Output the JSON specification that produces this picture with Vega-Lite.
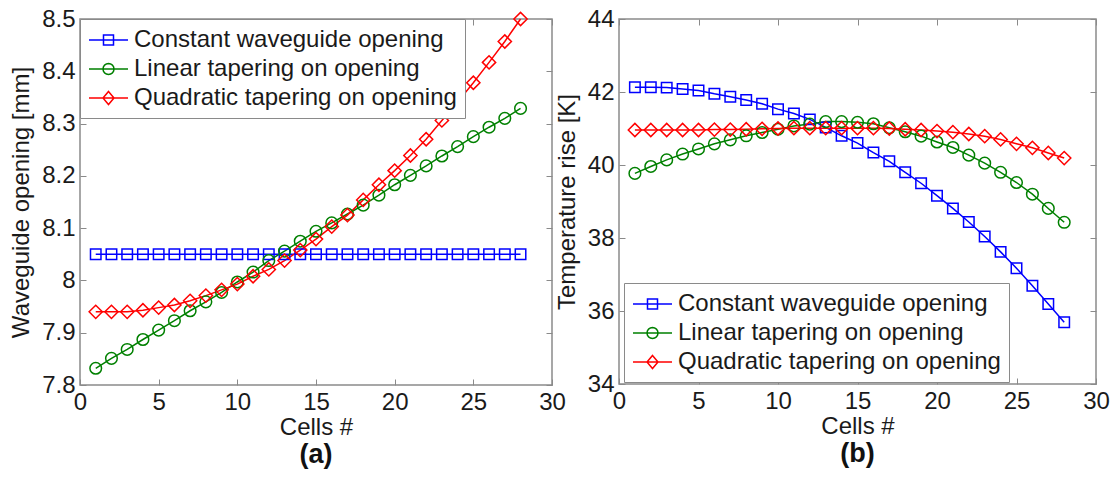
{
  "$schema": "https://vega.github.io/schema/vega-lite/v6.json",
  "background": "white",
  "padding": {"left": 8, "top": 6, "right": 5, "bottom": 0},
  "bounds": "flush",
  "spacing": 67,
  "config": {
    "font": "Liberation Sans",
    "view": {"stroke": "#8a8a8a", "strokeWidth": 1.5},
    "axis": {
      "grid": false, "domain": false, "ticks": true, "tickColor": "#8a8a8a", "tickSize": -6, "tickWidth": 1,
      "labelFont": "Liberation Sans", "labelFontSize": 24, "labelColor": "#1a1a1a", "labelPadding": 11,
      "labelFlush": false, "labelOverlap": false,
      "titleFont": "Liberation Sans", "titleFontSize": 24, "titleFontWeight": "normal", "titleColor": "#1a1a1a"
    },
    "legend": {
      "labelFont": "Liberation Sans", "labelFontSize": 24, "labelColor": "#1a1a1a", "labelLimit": 600,
      "fillColor": "white", "strokeColor": "#8a8a8a", "padding": 8, "rowPadding": 4,
      "symbolSize": 576, "symbolStrokeWidth": 1.5, "labelOffset": 20, "zindex": 1
    },
    "title": {"font": "Liberation Sans", "fontSize": 27, "fontWeight": "bold", "color": "#111111"}
  },
  "datasets": {
    "opening": [
      {"cell":1,"series":"Constant waveguide opening","value":8.05},{"cell":2,"series":"Constant waveguide opening","value":8.05},{"cell":3,"series":"Constant waveguide opening","value":8.05},{"cell":4,"series":"Constant waveguide opening","value":8.05},{"cell":5,"series":"Constant waveguide opening","value":8.05},{"cell":6,"series":"Constant waveguide opening","value":8.05},{"cell":7,"series":"Constant waveguide opening","value":8.05},{"cell":8,"series":"Constant waveguide opening","value":8.05},{"cell":9,"series":"Constant waveguide opening","value":8.05},{"cell":10,"series":"Constant waveguide opening","value":8.05},{"cell":11,"series":"Constant waveguide opening","value":8.05},{"cell":12,"series":"Constant waveguide opening","value":8.05},{"cell":13,"series":"Constant waveguide opening","value":8.05},{"cell":14,"series":"Constant waveguide opening","value":8.05},{"cell":15,"series":"Constant waveguide opening","value":8.05},{"cell":16,"series":"Constant waveguide opening","value":8.05},{"cell":17,"series":"Constant waveguide opening","value":8.05},{"cell":18,"series":"Constant waveguide opening","value":8.05},{"cell":19,"series":"Constant waveguide opening","value":8.05},{"cell":20,"series":"Constant waveguide opening","value":8.05},{"cell":21,"series":"Constant waveguide opening","value":8.05},{"cell":22,"series":"Constant waveguide opening","value":8.05},{"cell":23,"series":"Constant waveguide opening","value":8.05},{"cell":24,"series":"Constant waveguide opening","value":8.05},{"cell":25,"series":"Constant waveguide opening","value":8.05},{"cell":26,"series":"Constant waveguide opening","value":8.05},{"cell":27,"series":"Constant waveguide opening","value":8.05},{"cell":28,"series":"Constant waveguide opening","value":8.05},
      {"cell":1,"series":"Linear tapering on opening","value":7.832},{"cell":2,"series":"Linear tapering on opening","value":7.851},{"cell":3,"series":"Linear tapering on opening","value":7.868},{"cell":4,"series":"Linear tapering on opening","value":7.887},{"cell":5,"series":"Linear tapering on opening","value":7.905},{"cell":6,"series":"Linear tapering on opening","value":7.923},{"cell":7,"series":"Linear tapering on opening","value":7.942},{"cell":8,"series":"Linear tapering on opening","value":7.959},{"cell":9,"series":"Linear tapering on opening","value":7.977},{"cell":10,"series":"Linear tapering on opening","value":7.997},{"cell":11,"series":"Linear tapering on opening","value":8.016},{"cell":12,"series":"Linear tapering on opening","value":8.038},{"cell":13,"series":"Linear tapering on opening","value":8.056},{"cell":14,"series":"Linear tapering on opening","value":8.075},{"cell":15,"series":"Linear tapering on opening","value":8.094},{"cell":16,"series":"Linear tapering on opening","value":8.11},{"cell":17,"series":"Linear tapering on opening","value":8.127},{"cell":18,"series":"Linear tapering on opening","value":8.144},{"cell":19,"series":"Linear tapering on opening","value":8.163},{"cell":20,"series":"Linear tapering on opening","value":8.183},{"cell":21,"series":"Linear tapering on opening","value":8.201},{"cell":22,"series":"Linear tapering on opening","value":8.219},{"cell":23,"series":"Linear tapering on opening","value":8.238},{"cell":24,"series":"Linear tapering on opening","value":8.256},{"cell":25,"series":"Linear tapering on opening","value":8.275},{"cell":26,"series":"Linear tapering on opening","value":8.293},{"cell":27,"series":"Linear tapering on opening","value":8.31},{"cell":28,"series":"Linear tapering on opening","value":8.329},
      {"cell":1,"series":"Quadratic tapering on opening","value":7.94},{"cell":2,"series":"Quadratic tapering on opening","value":7.94},{"cell":3,"series":"Quadratic tapering on opening","value":7.94},{"cell":4,"series":"Quadratic tapering on opening","value":7.943},{"cell":5,"series":"Quadratic tapering on opening","value":7.948},{"cell":6,"series":"Quadratic tapering on opening","value":7.953},{"cell":7,"series":"Quadratic tapering on opening","value":7.961},{"cell":8,"series":"Quadratic tapering on opening","value":7.971},{"cell":9,"series":"Quadratic tapering on opening","value":7.982},{"cell":10,"series":"Quadratic tapering on opening","value":7.993},{"cell":11,"series":"Quadratic tapering on opening","value":8.008},{"cell":12,"series":"Quadratic tapering on opening","value":8.021},{"cell":13,"series":"Quadratic tapering on opening","value":8.038},{"cell":14,"series":"Quadratic tapering on opening","value":8.058},{"cell":15,"series":"Quadratic tapering on opening","value":8.079},{"cell":16,"series":"Quadratic tapering on opening","value":8.103},{"cell":17,"series":"Quadratic tapering on opening","value":8.125},{"cell":18,"series":"Quadratic tapering on opening","value":8.154},{"cell":19,"series":"Quadratic tapering on opening","value":8.183},{"cell":20,"series":"Quadratic tapering on opening","value":8.21},{"cell":21,"series":"Quadratic tapering on opening","value":8.239},{"cell":22,"series":"Quadratic tapering on opening","value":8.27},{"cell":23,"series":"Quadratic tapering on opening","value":8.306},{"cell":24,"series":"Quadratic tapering on opening","value":8.341},{"cell":25,"series":"Quadratic tapering on opening","value":8.378},{"cell":26,"series":"Quadratic tapering on opening","value":8.417},{"cell":27,"series":"Quadratic tapering on opening","value":8.457},{"cell":28,"series":"Quadratic tapering on opening","value":8.5}
    ],
    "temp": [
      {"cell":1,"series":"Constant waveguide opening","value":42.13},{"cell":2,"series":"Constant waveguide opening","value":42.13},{"cell":3,"series":"Constant waveguide opening","value":42.12},{"cell":4,"series":"Constant waveguide opening","value":42.08},{"cell":5,"series":"Constant waveguide opening","value":42.04},{"cell":6,"series":"Constant waveguide opening","value":41.95},{"cell":7,"series":"Constant waveguide opening","value":41.87},{"cell":8,"series":"Constant waveguide opening","value":41.78},{"cell":9,"series":"Constant waveguide opening","value":41.68},{"cell":10,"series":"Constant waveguide opening","value":41.53},{"cell":11,"series":"Constant waveguide opening","value":41.41},{"cell":12,"series":"Constant waveguide opening","value":41.25},{"cell":13,"series":"Constant waveguide opening","value":41.03},{"cell":14,"series":"Constant waveguide opening","value":40.8},{"cell":15,"series":"Constant waveguide opening","value":40.6},{"cell":16,"series":"Constant waveguide opening","value":40.34},{"cell":17,"series":"Constant waveguide opening","value":40.1},{"cell":18,"series":"Constant waveguide opening","value":39.8},{"cell":19,"series":"Constant waveguide opening","value":39.5},{"cell":20,"series":"Constant waveguide opening","value":39.16},{"cell":21,"series":"Constant waveguide opening","value":38.81},{"cell":22,"series":"Constant waveguide opening","value":38.44},{"cell":23,"series":"Constant waveguide opening","value":38.04},{"cell":24,"series":"Constant waveguide opening","value":37.62},{"cell":25,"series":"Constant waveguide opening","value":37.17},{"cell":26,"series":"Constant waveguide opening","value":36.69},{"cell":27,"series":"Constant waveguide opening","value":36.19},{"cell":28,"series":"Constant waveguide opening","value":35.69},
      {"cell":1,"series":"Linear tapering on opening","value":39.77},{"cell":2,"series":"Linear tapering on opening","value":39.96},{"cell":3,"series":"Linear tapering on opening","value":40.14},{"cell":4,"series":"Linear tapering on opening","value":40.3},{"cell":5,"series":"Linear tapering on opening","value":40.44},{"cell":6,"series":"Linear tapering on opening","value":40.58},{"cell":7,"series":"Linear tapering on opening","value":40.69},{"cell":8,"series":"Linear tapering on opening","value":40.8},{"cell":9,"series":"Linear tapering on opening","value":40.89},{"cell":10,"series":"Linear tapering on opening","value":40.98},{"cell":11,"series":"Linear tapering on opening","value":41.07},{"cell":12,"series":"Linear tapering on opening","value":41.12},{"cell":13,"series":"Linear tapering on opening","value":41.19},{"cell":14,"series":"Linear tapering on opening","value":41.19},{"cell":15,"series":"Linear tapering on opening","value":41.17},{"cell":16,"series":"Linear tapering on opening","value":41.13},{"cell":17,"series":"Linear tapering on opening","value":41.02},{"cell":18,"series":"Linear tapering on opening","value":40.91},{"cell":19,"series":"Linear tapering on opening","value":40.79},{"cell":20,"series":"Linear tapering on opening","value":40.63},{"cell":21,"series":"Linear tapering on opening","value":40.48},{"cell":22,"series":"Linear tapering on opening","value":40.27},{"cell":23,"series":"Linear tapering on opening","value":40.05},{"cell":24,"series":"Linear tapering on opening","value":39.8},{"cell":25,"series":"Linear tapering on opening","value":39.52},{"cell":26,"series":"Linear tapering on opening","value":39.2},{"cell":27,"series":"Linear tapering on opening","value":38.81},{"cell":28,"series":"Linear tapering on opening","value":38.43},
      {"cell":1,"series":"Quadratic tapering on opening","value":40.96},{"cell":2,"series":"Quadratic tapering on opening","value":40.96},{"cell":3,"series":"Quadratic tapering on opening","value":40.96},{"cell":4,"series":"Quadratic tapering on opening","value":40.96},{"cell":5,"series":"Quadratic tapering on opening","value":40.96},{"cell":6,"series":"Quadratic tapering on opening","value":40.97},{"cell":7,"series":"Quadratic tapering on opening","value":40.97},{"cell":8,"series":"Quadratic tapering on opening","value":40.98},{"cell":9,"series":"Quadratic tapering on opening","value":40.99},{"cell":10,"series":"Quadratic tapering on opening","value":41.0},{"cell":11,"series":"Quadratic tapering on opening","value":41.01},{"cell":12,"series":"Quadratic tapering on opening","value":41.01},{"cell":13,"series":"Quadratic tapering on opening","value":41.01},{"cell":14,"series":"Quadratic tapering on opening","value":41.01},{"cell":15,"series":"Quadratic tapering on opening","value":41.01},{"cell":16,"series":"Quadratic tapering on opening","value":41.01},{"cell":17,"series":"Quadratic tapering on opening","value":41.0},{"cell":18,"series":"Quadratic tapering on opening","value":40.98},{"cell":19,"series":"Quadratic tapering on opening","value":40.96},{"cell":20,"series":"Quadratic tapering on opening","value":40.93},{"cell":21,"series":"Quadratic tapering on opening","value":40.9},{"cell":22,"series":"Quadratic tapering on opening","value":40.85},{"cell":23,"series":"Quadratic tapering on opening","value":40.79},{"cell":24,"series":"Quadratic tapering on opening","value":40.7},{"cell":25,"series":"Quadratic tapering on opening","value":40.58},{"cell":26,"series":"Quadratic tapering on opening","value":40.47},{"cell":27,"series":"Quadratic tapering on opening","value":40.33},{"cell":28,"series":"Quadratic tapering on opening","value":40.19}
    ]
  },
  "resolve": {"scale": {"color": "independent"}, "legend": {"color": "independent"}},
  "hconcat": [
    {
      "width": 472, "height": 366,
      "data": {"name": "opening"},
      "title": {"text": "(a)", "orient": "bottom", "anchor": "middle", "offset": 3},
      "encoding": {
        "color": {"field": "series", "type": "nominal", "scale": {"domain": ["Constant waveguide opening","Linear tapering on opening","Quadratic tapering on opening"], "range": ["#0000ff","#008000","#ff0000"]},
          "legend": {"title": null, "orient": "none", "legendX": 0, "legendY": 0, "symbolSize": 576,
            "encode": {"symbols": {"update": {
              "shape": {"signal": "datum.value == 'Constant waveguide opening' ? 'M-1,0L2.25,0M0.208,-0.417L1.042,-0.417L1.042,0.417L0.208,0.417Z' : datum.value == 'Linear tapering on opening' ? 'M-1,0L2.25,0M1.083,0L1.048,0.175L0.949,0.324L0.8,0.423L0.625,0.458L0.45,0.423L0.301,0.324L0.202,0.175L0.167,0L0.202,-0.175L0.301,-0.324L0.45,-0.423L0.625,-0.458L0.8,-0.423L0.949,-0.324L1.048,-0.175Z' : 'M-1,0L2.25,0M0.625,-0.54L1.083,0L0.625,0.54L0.167,0Z'"},
              "stroke": {"signal": "datum.value == 'Constant waveguide opening' ? '#0000ff' : datum.value == 'Linear tapering on opening' ? '#008000' : '#ff0000'"},
              "fill": {"value": "transparent"},
              "size": {"value": 576},
              "strokeWidth": {"value": 1.5},
              "opacity": {"value": 1}
            }}}}}
      },
      "layer": [
        {
          "mark": {"type": "line", "strokeWidth": 1.5},
          "encoding": {
            "x": {"field": "cell", "type": "quantitative", "scale": {"domain": [0, 30], "nice": false}, "axis": {"orient": "bottom", "values": [0,5,10,15,20,25,30], "title": "Cells #", "titlePadding": 1}},
            "y": {"field": "value", "type": "quantitative", "scale": {"domain": [7.8, 8.5], "nice": false, "zero": false}, "axis": {"orient": "left", "values": [7.8,7.9,8,8.1,8.2,8.3,8.4,8.5], "format": ".1~f", "title": "Waveguide opening [mm]", "titlePadding": 8}}
          }
        },
        {
          "transform": [{"filter": "datum.series == 'Constant waveguide opening'"}],
          "mark": {"type": "point", "shape": "square", "size": 110, "filled": false, "strokeWidth": 1.5, "opacity": 1},
          "encoding": {
            "x": {"field": "cell", "type": "quantitative", "axis": {"orient": "top", "values": [0,5,10,15,20,25,30], "labels": false, "title": null}},
            "y": {"field": "value", "type": "quantitative", "axis": {"orient": "right", "values": [7.8,7.9,8,8.1,8.2,8.3,8.4,8.5], "labels": false, "title": null}}
          }
        },
        {
          "transform": [{"filter": "datum.series == 'Linear tapering on opening'"}],
          "mark": {"type": "point", "shape": "circle", "size": 135, "filled": false, "strokeWidth": 1.5, "opacity": 1},
          "encoding": {
            "x": {"field": "cell", "type": "quantitative", "axis": null},
            "y": {"field": "value", "type": "quantitative", "axis": null}
          }
        },
        {
          "transform": [{"filter": "datum.series == 'Quadratic tapering on opening'"}],
          "mark": {"type": "point", "shape": "diamond", "size": 175, "filled": false, "strokeWidth": 1.5, "opacity": 1},
          "encoding": {
            "x": {"field": "cell", "type": "quantitative", "axis": null},
            "y": {"field": "value", "type": "quantitative", "axis": null}
          }
        }
      ]
    },
    {
      "width": 477, "height": 365,
      "data": {"name": "temp"},
      "title": {"text": "(b)", "orient": "bottom", "anchor": "middle", "offset": 3},
      "encoding": {
        "color": {"field": "series", "type": "nominal", "scale": {"domain": ["Constant waveguide opening","Linear tapering on opening","Quadratic tapering on opening"], "range": ["#0000ff","#008000","#ff0000"]},
          "legend": {"title": null, "orient": "none", "legendX": 5, "legendY": 264, "symbolSize": 576,
            "encode": {"symbols": {"update": {
              "shape": {"signal": "datum.value == 'Constant waveguide opening' ? 'M-1,0L2.25,0M0.208,-0.417L1.042,-0.417L1.042,0.417L0.208,0.417Z' : datum.value == 'Linear tapering on opening' ? 'M-1,0L2.25,0M1.083,0L1.048,0.175L0.949,0.324L0.8,0.423L0.625,0.458L0.45,0.423L0.301,0.324L0.202,0.175L0.167,0L0.202,-0.175L0.301,-0.324L0.45,-0.423L0.625,-0.458L0.8,-0.423L0.949,-0.324L1.048,-0.175Z' : 'M-1,0L2.25,0M0.625,-0.54L1.083,0L0.625,0.54L0.167,0Z'"},
              "stroke": {"signal": "datum.value == 'Constant waveguide opening' ? '#0000ff' : datum.value == 'Linear tapering on opening' ? '#008000' : '#ff0000'"},
              "fill": {"value": "transparent"},
              "size": {"value": 576},
              "strokeWidth": {"value": 1.5},
              "opacity": {"value": 1}
            }}}}}
      },
      "layer": [
        {
          "mark": {"type": "line", "strokeWidth": 1.5},
          "encoding": {
            "x": {"field": "cell", "type": "quantitative", "scale": {"domain": [0, 30], "nice": false}, "axis": {"orient": "bottom", "values": [0,5,10,15,20,25,30], "title": "Cells #", "titlePadding": 1}},
            "y": {"field": "value", "type": "quantitative", "scale": {"domain": [34, 44], "nice": false, "zero": false}, "axis": {"orient": "left", "values": [34,36,38,40,42,44], "format": "d", "title": "Temperature rise [K]", "titlePadding": 8}}
          }
        },
        {
          "transform": [{"filter": "datum.series == 'Constant waveguide opening'"}],
          "mark": {"type": "point", "shape": "square", "size": 110, "filled": false, "strokeWidth": 1.5, "opacity": 1},
          "encoding": {
            "x": {"field": "cell", "type": "quantitative", "axis": {"orient": "top", "values": [0,5,10,15,20,25,30], "labels": false, "title": null}},
            "y": {"field": "value", "type": "quantitative", "axis": {"orient": "right", "values": [34,36,38,40,42,44], "labels": false, "title": null}}
          }
        },
        {
          "transform": [{"filter": "datum.series == 'Linear tapering on opening'"}],
          "mark": {"type": "point", "shape": "circle", "size": 135, "filled": false, "strokeWidth": 1.5, "opacity": 1},
          "encoding": {
            "x": {"field": "cell", "type": "quantitative", "axis": null},
            "y": {"field": "value", "type": "quantitative", "axis": null}
          }
        },
        {
          "transform": [{"filter": "datum.series == 'Quadratic tapering on opening'"}],
          "mark": {"type": "point", "shape": "diamond", "size": 175, "filled": false, "strokeWidth": 1.5, "opacity": 1},
          "encoding": {
            "x": {"field": "cell", "type": "quantitative", "axis": null},
            "y": {"field": "value", "type": "quantitative", "axis": null}
          }
        }
      ]
    }
  ]
}
